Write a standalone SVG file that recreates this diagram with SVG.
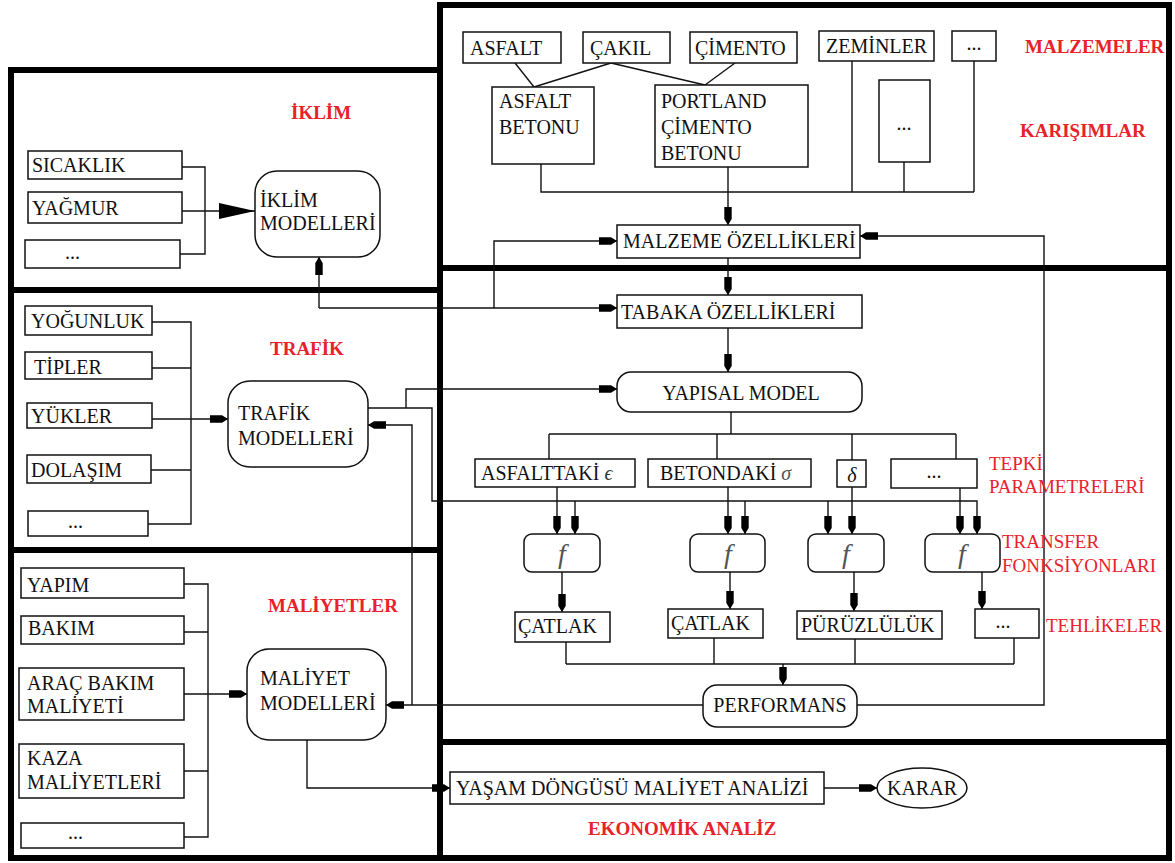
<svg xmlns="http://www.w3.org/2000/svg" width="1175" height="863" viewBox="0 0 1175 863">
<defs>
<style>
text{font-family:"Liberation Serif","DejaVu Serif",serif;fill:#111;font-size:20px}
.red{fill:#e8212b;font-size:19px}
.b{font-weight:bold}
.mid{text-anchor:middle}
.frame{fill:none;stroke:#000;stroke-width:6}
.box{fill:#fff;stroke:#111;stroke-width:1.5}
.c{fill:none;stroke:#111;stroke-width:1.4}
.ca{fill:none;stroke:#111;stroke-width:1.4;marker-end:url(#ah)}
.f{font-style:italic;fill:#555;font-size:28px}
</style>
<marker id="ah" viewBox="0 0 19 9" refX="19" refY="4.5" markerWidth="19" markerHeight="9" markerUnits="userSpaceOnUse" orient="auto">
<path d="M1,0.8 H13 L19,4.5 L13,8.2 H1 Z" fill="#000"/>
</marker>
<marker id="big" viewBox="0 0 36 16" refX="36" refY="8" markerWidth="36" markerHeight="16" markerUnits="userSpaceOnUse" orient="auto">
<path d="M0,0 L36,8 L0,16 Z" fill="#000"/>
</marker>
</defs>
<rect width="1175" height="863" fill="#fff"/>

<g id="frames">
<rect class="frame" x="440" y="5" width="729" height="263"/>
<rect class="frame" x="440" y="268" width="729" height="474"/>
<rect class="frame" x="440" y="742" width="729" height="116"/>
<rect class="frame" x="11" y="70" width="429" height="220"/>
<rect class="frame" x="11" y="290" width="429" height="260"/>
<rect class="frame" x="11" y="550" width="429" height="308"/>
</g>

<g id="connectors">
<line class="c" x1="515" y1="63" x2="534" y2="87"/>
<line class="c" x1="611" y1="63" x2="534" y2="87" stroke-width="2"/>
<line class="c" x1="611" y1="63" x2="705" y2="85" stroke-width="2"/>
<line class="c" x1="735" y1="63" x2="705" y2="85"/>
<path class="c" d="M541,164 V192 H974 M852,61 V192 M904,162 V192 M974,61 V192"/>
<path class="ca" d="M728,167 V225"/>
<path class="ca" d="M319,308 H617"/>
<path class="ca" d="M319,308 V257"/>
<path class="ca" d="M494,308 V241 H617"/>
<path class="ca" d="M728,258 V295"/>
<path class="ca" d="M728,328 V372"/>
<path class="ca" d="M368,408 H432 V501 H977 V534"/>
<path class="ca" d="M406,408 V389 H617"/>
<path class="ca" d="M575,501 V534"/>
<path class="ca" d="M745,501 V534"/>
<path class="ca" d="M828,501 V534"/>
<path class="c" d="M731,412 V434 M549,434 H956 M549,434 V459 M717,434 V459 M852,434 V460 M956,434 V459"/>
<path class="ca" d="M557,487 V534"/>
<path class="ca" d="M728,487 V534"/>
<path class="ca" d="M852,487 V534"/>
<path class="ca" d="M960,488 V534"/>
<path class="ca" d="M562,572 V612"/>
<path class="ca" d="M730,572 V609"/>
<path class="ca" d="M854,572 V611"/>
<path class="ca" d="M982,572 V609"/>
<path class="c" d="M566,642 V664 M714,638 V664 M855,639 V664 M1014,638 V664 M566,664 H1014"/>
<path class="ca" d="M783,664 V685"/>
<path class="ca" d="M857,705 H1044 V236 H860"/>
<path class="ca" d="M703,705 H386"/>
<path class="ca" d="M412,705 V425 H368"/>
<path class="c" d="M180,167 H205 V254 H180"/>
<path class="c" d="M182,211 H255" marker-end="url(#big)"/>
<path class="c" d="M152,322 H191 V524 H148 M152,368 H191 M151,470 H191"/>
<path class="ca" d="M152,419 H228"/>
<path class="c" d="M184,584 H208 V837 H184 M184,632 H208 M184,771 H208"/>
<path class="ca" d="M184,694 H247"/>
<path class="ca" d="M307,740 V788 H450"/>
<path class="ca" d="M824,788 H877"/>
</g>

<g id="labels">
<text class="red b" x="1025" y="53">MALZEMELER</text>
<text class="red b" x="1020" y="137">KARIŞIMLAR</text>
<text class="red b" x="291" y="119">İKLİM</text>
<text class="red b" x="270" y="355">TRAFİK</text>
<text class="red b" x="268" y="612">MALİYETLER</text>
<text class="red b" x="588" y="835">EKONOMİK ANALİZ</text>
<text class="red" x="989" y="470">TEPKİ</text>
<text class="red" x="989" y="493">PARAMETRELERİ</text>
<text class="red" x="1002" y="548">TRANSFER</text>
<text class="red" x="1002" y="572">FONKSİYONLARI</text>
<text class="red" x="1046" y="632">TEHLİKELER</text>
</g>

<g id="asfalt"><rect class="box" x="463" y="32" width="98" height="31"/><text x="470" y="55">ASFALT</text></g>
<g id="cakil"><rect class="box" x="583" y="32" width="87" height="31"/><text x="590" y="55">ÇAKIL</text></g>
<g id="cimento"><rect class="box" x="690" y="32" width="107" height="31"/><text x="695" y="55">ÇİMENTO</text></g>
<g id="zeminler"><rect class="box" x="819" y="31" width="115" height="30"/><text x="826" y="53">ZEMİNLER</text></g>
<g id="malz-dots"><rect class="box" x="952" y="31" width="44" height="30"/><text class="mid" x="974" y="50" font-size="14">...</text></g>
<g id="asfalt-betonu"><rect class="box" x="492" y="87" width="102" height="77"/><text x="499" y="108">ASFALT</text><text x="499" y="134">BETONU</text></g>
<g id="portland"><rect class="box" x="655" y="85" width="153" height="82"/><text x="661" y="108">PORTLAND</text><text x="661" y="134">ÇİMENTO</text><text x="661" y="160">BETONU</text></g>
<g id="karisim-dots"><rect class="box" x="879" y="80" width="51" height="82"/><text class="mid" x="904" y="130" font-size="14">...</text></g>
<g id="malzeme-ozellikleri"><rect class="box" x="617" y="225" width="243" height="33"/><text x="623" y="248">MALZEME ÖZELLİKLERİ</text></g>
<g id="tabaka-ozellikleri"><rect class="box" x="617" y="295" width="245" height="33"/><text x="621" y="319">TABAKA ÖZELLİKLERİ</text></g>
<g id="yapisal-model"><rect class="box" x="617" y="372" width="245" height="40" rx="14"/><text class="mid" x="741" y="400">YAPISAL MODEL</text></g>
<g id="asfalttaki"><rect class="box" x="475" y="459" width="160" height="28"/><text x="481" y="480">ASFALTTAKİ <tspan font-style="italic" fill="#333">ϵ</tspan></text></g>
<g id="betondaki"><rect class="box" x="648" y="459" width="163" height="28"/><text x="660" y="480">BETONDAKİ <tspan font-style="italic" fill="#555">σ</tspan></text></g>
<g id="delta"><rect class="box" x="837" y="460" width="29" height="27"/><text class="mid" x="852" y="482" font-style="italic" fill="#333">δ</text></g>
<g id="tepki-dots"><rect class="box" x="891" y="459" width="86" height="29"/><text class="mid" x="934" y="478" font-size="14">...</text></g>
<g id="f1"><rect class="box" x="524" y="534" width="76" height="38" rx="8"/><text class="f mid" x="562" y="563">f</text></g>
<g id="f2"><rect class="box" x="690" y="534" width="75" height="38" rx="8"/><text class="f mid" x="728" y="563">f</text></g>
<g id="f3"><rect class="box" x="808" y="534" width="76" height="38" rx="8"/><text class="f mid" x="846" y="563">f</text></g>
<g id="f4"><rect class="box" x="925" y="534" width="75" height="38" rx="8"/><text class="f mid" x="962" y="563">f</text></g>
<g id="catlak1"><rect class="box" x="515" y="612" width="95" height="30"/><text x="518" y="633">ÇATLAK</text></g>
<g id="catlak2"><rect class="box" x="668" y="609" width="95" height="29"/><text x="671" y="630">ÇATLAK</text></g>
<g id="puruzluluk"><rect class="box" x="797" y="611" width="145" height="28"/><text x="801" y="632">PÜRÜZLÜLÜK</text></g>
<g id="tehlike-dots"><rect class="box" x="975" y="609" width="64" height="29"/><text class="mid" x="1003" y="628" font-size="14">...</text></g>
<g id="performans"><rect class="box" x="703" y="685" width="154" height="42" rx="14"/><text class="mid" x="780" y="712">PERFORMANS</text></g>
<g id="yasam"><rect class="box" x="450" y="772" width="374" height="32"/><text x="456" y="795">YAŞAM DÖNGÜSÜ MALİYET ANALİZİ</text></g>
<g id="karar"><ellipse class="box" cx="922" cy="788" rx="45" ry="20"/><text class="mid" x="922" y="795">KARAR</text></g>

<g id="sicaklik"><rect class="box" x="28" y="151" width="154" height="28"/><text x="32" y="172">SICAKLIK</text></g>
<g id="yagmur"><rect class="box" x="28" y="192" width="154" height="31"/><text x="32" y="215">YAĞMUR</text></g>
<g id="iklim-dots"><rect class="box" x="25" y="240" width="155" height="28"/><text x="65" y="259" font-size="14">...</text></g>
<g id="iklim-modelleri"><rect class="box" x="255" y="171" width="125" height="86" rx="22"/><text x="260" y="207">İKLİM</text><text x="260" y="230">MODELLERİ</text></g>
<g id="yogunluk"><rect class="box" x="25" y="306" width="127" height="29"/><text x="31" y="328">YOĞUNLUK</text></g>
<g id="tipler"><rect class="box" x="25" y="352" width="127" height="27"/><text x="34" y="374">TİPLER</text></g>
<g id="yukler"><rect class="box" x="27" y="403" width="125" height="25"/><text x="31" y="423">YÜKLER</text></g>
<g id="dolasim"><rect class="box" x="27" y="455" width="124" height="28"/><text x="31" y="477">DOLAŞIM</text></g>
<g id="trafik-dots"><rect class="box" x="28" y="511" width="120" height="25"/><text x="68" y="528" font-size="14">...</text></g>
<g id="trafik-modelleri"><rect class="box" x="228" y="381" width="140" height="86" rx="22"/><text x="238" y="420">TRAFİK</text><text x="238" y="445">MODELLERİ</text></g>
<g id="yapim"><rect class="box" x="21" y="568" width="163" height="30"/><text x="27" y="592">YAPIM</text></g>
<g id="bakim"><rect class="box" x="21" y="616" width="163" height="28"/><text x="28" y="635">BAKIM</text></g>
<g id="arac-bakim"><rect class="box" x="19" y="668" width="165" height="52"/><text x="27" y="690">ARAÇ BAKIM</text><text x="27" y="713">MALİYETİ</text></g>
<g id="kaza"><rect class="box" x="19" y="744" width="165" height="54"/><text x="27" y="765">KAZA</text><text x="27" y="789">MALİYETLERİ</text></g>
<g id="maliyet-dots"><rect class="box" x="21" y="823" width="163" height="25"/><text x="68" y="839" font-size="14">...</text></g>
<g id="maliyet-modelleri"><rect class="box" x="247" y="649" width="139" height="91" rx="22"/><text x="260" y="685">MALİYET</text><text x="260" y="710">MODELLERİ</text></g>
</svg>
